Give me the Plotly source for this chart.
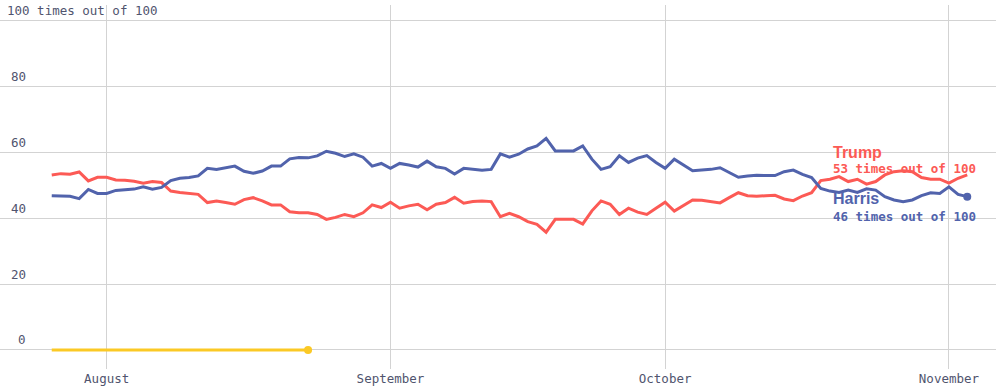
import pandas as pd
import plotly.graph_objects as go

start_date = "2024-07-26"
harris = [46.9, 46.7, 46.7, 46.0, 48.8, 47.6, 47.6, 48.5, 48.6, 48.9,
          49.6, 48.9, 49.4, 51.5, 52.2, 52.4, 52.9, 55.2, 54.9, 55.4,
          55.9, 54.3, 53.7, 54.4, 55.9, 55.9, 58.1, 58.5, 58.4, 59.0,
          60.4, 59.8, 58.8, 59.6, 58.6, 55.9, 56.7, 55.2, 56.7, 56.2,
          55.6, 57.4, 55.7, 55.2, 53.5, 55.2, 54.9, 54.6, 54.9, 59.6,
          58.6, 59.5, 61.1, 62.0, 64.3, 60.5, 60.5, 60.5, 62.0, 58.0,
          54.9, 55.7, 59.0, 57.0, 58.3, 59.1, 57.0, 55.2, 58.0, 56.2,
          54.5, 54.7, 54.9, 55.4, 53.9, 52.5, 52.9, 53.1, 53.0, 53.0,
          54.2, 54.7, 53.4, 52.4, 49.1, 48.3, 47.9, 48.6, 47.9, 49.0,
          48.6, 46.6, 45.6, 45.1, 45.6, 46.9, 47.8, 47.6, 49.6, 47.3,
          46.6]
trump = [53.2, 53.6, 53.4, 54.1, 51.4, 52.5, 52.5, 51.7, 51.6, 51.3,
         50.7, 51.2, 50.9, 48.3, 47.9, 47.6, 47.3, 44.8, 45.3, 44.8,
         44.3, 45.7, 46.3, 45.3, 44.1, 44.1, 42.0, 41.7, 41.7, 41.2,
         39.7, 40.3, 41.2, 40.5, 41.7, 44.1, 43.3, 44.9, 43.1, 43.8,
         44.3, 42.6, 44.3, 44.8, 46.4, 44.6, 45.1, 45.3, 45.1, 40.5,
         41.5, 40.5, 39.0, 38.2, 35.8, 39.7, 39.7, 39.7, 38.3, 42.3,
         45.3, 44.3, 41.2, 43.1, 41.9, 41.2, 43.1, 44.9, 42.2, 44.0,
         45.6, 45.5, 45.2, 44.7, 46.3, 47.8, 46.9, 46.7, 46.9, 47.0,
         45.9, 45.4, 46.8, 47.8, 51.5, 51.9, 52.7, 51.2, 51.9, 50.4,
         51.2, 53.2, 54.2, 54.5, 54.2, 52.4, 51.9, 51.9, 50.7, 52.2,
         53.2]
kennedy = [0] * 29

month_ticks = ["2024-08-01", "2024-09-01", "2024-10-01", "2024-11-01"]
month_labels = ["August", "September", "October", "November"]
y_ticks = [0, 20, 40, 60, 80, 100]
y_labels = ["0", "20", "40", "60", "80", "100"]

dates = pd.date_range(start_date, periods=len(harris), freq="D")
k_dates = dates[:len(kennedy)]

RED = "#fc5a55"
BLUE = "#5163ac"
YEL = "#fbc925"
TXT = "#50546e"
GRID = "#d3d3d3"

fig = go.Figure()
fig.add_trace(go.Scatter(x=k_dates, y=kennedy, mode="lines", line=dict(color=YEL, width=3)))
fig.add_trace(go.Scatter(x=[k_dates[-1]], y=[kennedy[-1]], mode="markers",
                         marker=dict(color=YEL, size=8)))
fig.add_trace(go.Scatter(x=dates, y=trump, mode="lines", line=dict(color=RED, width=3)))
fig.add_trace(go.Scatter(x=dates, y=harris, mode="lines", line=dict(color=BLUE, width=3)))
fig.add_trace(go.Scatter(x=[dates[-1]], y=[harris[-1]], mode="markers",
                         marker=dict(color=BLUE, size=8)))

aug1 = pd.Timestamp("2024-08-01")
x0 = aug1 - pd.Timedelta(days=11.65)
x1 = aug1 + pd.Timedelta(days=97.14)

fig.update_layout(
    width=996, height=392,
    margin=dict(l=0, r=0, t=5, b=23),
    paper_bgcolor="white", plot_bgcolor="white",
    showlegend=False,
    font=dict(family="DejaVu Sans Mono", size=12.5, color=TXT),
    xaxis=dict(range=[x0, x1], tickvals=month_ticks, ticktext=month_labels,
               showgrid=True, gridcolor=GRID, gridwidth=1, zeroline=False,
               showline=False, ticks="", automargin=False,
               tickfont=dict(family="DejaVu Sans Mono", size=12.5, color=TXT)),
    yaxis=dict(range=[-5.78, 104.86], tickvals=y_ticks, showticklabels=False,
               showgrid=True, gridcolor=GRID, gridwidth=1, zeroline=False, showline=False,
               automargin=False),
)

anns = []
for v, lab in zip(y_ticks, y_labels):
    if v == 100:
        anns.append(dict(x=5 / 996, xref="paper", y=v, yref="y", xanchor="left", yanchor="middle",
                         yshift=10, text="100 times out of 100", showarrow=False,
                         font=dict(family="DejaVu Sans Mono", size=12.5, color=TXT)))
    else:
        anns.append(dict(x=28 / 996, xref="paper", y=v, yref="y", xanchor="right", yanchor="middle",
                         yshift=10, text=lab, showarrow=False,
                         font=dict(family="DejaVu Sans Mono", size=12.5, color=TXT)))

lx = 831 / 996
anns += [
    dict(x=lx, xref="paper", y=60.0, yref="y", xanchor="left", yanchor="middle", text="<b>Trump</b>",
         showarrow=False, font=dict(family="Liberation Sans", size=16, color=RED)),
    dict(x=lx, xref="paper", y=55.3, yref="y", xanchor="left", yanchor="middle",
         text="<b>%d times out of 100</b>" % round(trump[-1]),
         showarrow=False, font=dict(family="DejaVu Sans Mono", size=12.5, color=RED)),
    dict(x=lx, xref="paper", y=45.9, yref="y", xanchor="left", yanchor="middle", text="<b>Harris</b>",
         showarrow=False, font=dict(family="Liberation Sans", size=16, color=BLUE)),
    dict(x=lx, xref="paper", y=40.7, yref="y", xanchor="left", yanchor="middle",
         text="<b>%d times out of 100</b>" % int(harris[-1]),
         showarrow=False, font=dict(family="DejaVu Sans Mono", size=12.5, color=BLUE)),
]
fig.update_layout(annotations=anns)

fig.write_html("out.html", config={"displayModeBar": False},
               post_script="document.body.style.margin='0';")
